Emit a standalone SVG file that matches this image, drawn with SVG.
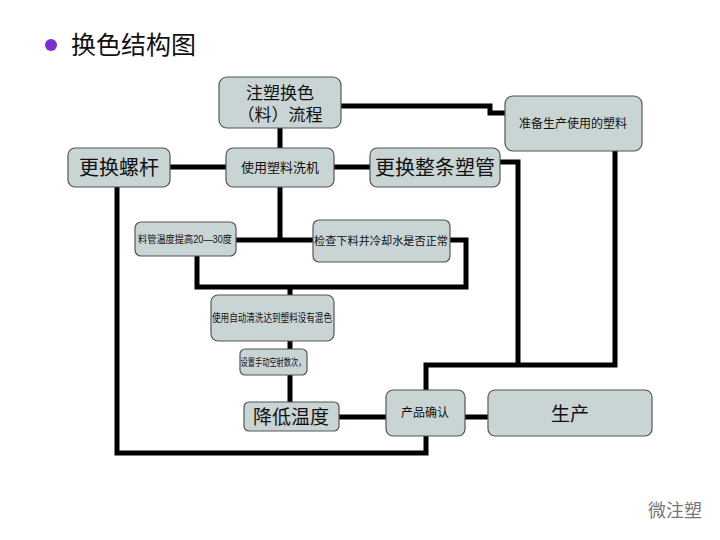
<svg xmlns="http://www.w3.org/2000/svg" width="720" height="540" viewBox="0 0 720 540">
<style>
.n{fill:#c9d4d4;stroke:#555;stroke-width:1.2}
.t{font-family:"Liberation Sans","Noto Sans CJK SC",sans-serif;fill:#111;text-anchor:middle}
.c{fill:none;stroke:#000;stroke-width:5;stroke-linejoin:miter}
</style>
<rect width="720" height="540" fill="#fff"/>
<circle cx="51" cy="45" r="6" fill="#7a2fd0"/>
<text x="71" y="54" font-family="'Noto Sans CJK SC',sans-serif" font-size="25" fill="#111">换色结构图</text>
<g id="connectors">
<path class="c" d="M341,106H490V113H505"/>
<path class="c" d="M280,128V148"/>
<path class="c" d="M170,167H226"/>
<path class="c" d="M334,167H370"/>
<path class="c" d="M280,187V240M236,240H313"/>
<path class="c" d="M450,240H466V287H197V256"/>
<path class="c" d="M290,287V295"/>
<path class="c" d="M290,341V349"/>
<path class="c" d="M290,375V402"/>
<path class="c" d="M339,417H386"/>
<path class="c" d="M465,417H488"/>
<path class="c" d="M500,162H518V365"/>
<path class="c" d="M426,390V365H615V151"/>
<path class="c" d="M117,187V453H426V436"/>
</g>
<g id="n1"><rect class="n" x="219" y="77" width="122" height="51" rx="8"/><text class="t" x="280" y="99" font-size="17">注塑换色</text><text class="t" x="280" y="121" font-size="17">（料）流程</text></g>
<g id="n2"><rect class="n" x="505" y="96" width="137" height="55" rx="8"/><text class="t" x="573" y="128" font-size="12">准备生产使用的塑料</text></g>
<g id="n3"><rect class="n" x="68" y="148" width="102" height="39" rx="7"/><text class="t" x="119" y="175" font-size="20">更换螺杆</text></g>
<g id="n4"><rect class="n" x="226" y="148" width="108" height="39" rx="7"/><text class="t" x="280" y="172" font-size="13">使用塑料洗机</text></g>
<g id="n5"><rect class="n" x="370" y="148" width="130" height="39" rx="7"/><text class="t" x="435" y="175" font-size="20">更换整条塑管</text></g>
<g id="n6"><rect class="n" x="135" y="222" width="101" height="34" rx="6"/><text class="t" x="185" y="243" font-size="10" textLength="94" lengthAdjust="spacingAndGlyphs">料管温度提高20—30度</text></g>
<g id="n7"><rect class="n" x="313" y="220" width="137" height="42" rx="6"/><text class="t" x="381" y="245" font-size="11" textLength="134" lengthAdjust="spacingAndGlyphs">检查下料井冷却水是否正常</text></g>
<g id="n8"><rect class="n" x="211" y="295" width="123" height="46" rx="7"/><text class="t" x="272" y="322" font-size="11" textLength="120" lengthAdjust="spacingAndGlyphs">使用自动清洗达到塑料没有混色</text></g>
<g id="n9"><rect class="n" x="240" y="349" width="67" height="26" rx="5"/><text class="t" x="273" y="366" font-size="10" textLength="65" lengthAdjust="spacingAndGlyphs">设置手动空射数次，</text></g>
<g id="n10"><rect class="n" x="244" y="402" width="95" height="29" rx="5"/><text class="t" x="291" y="424" font-size="19">降低温度</text></g>
<g id="n11"><rect class="n" x="386" y="390" width="79" height="46" rx="7"/><text class="t" x="425" y="417" font-size="12">产品确认</text></g>
<g id="n12"><rect class="n" x="488" y="390" width="164" height="46" rx="7"/><text class="t" x="570" y="421" font-size="19">生产</text></g>
<text x="648" y="517" font-family="'Noto Sans CJK SC',sans-serif" font-size="18" fill="#777">微注塑</text>
</svg>
